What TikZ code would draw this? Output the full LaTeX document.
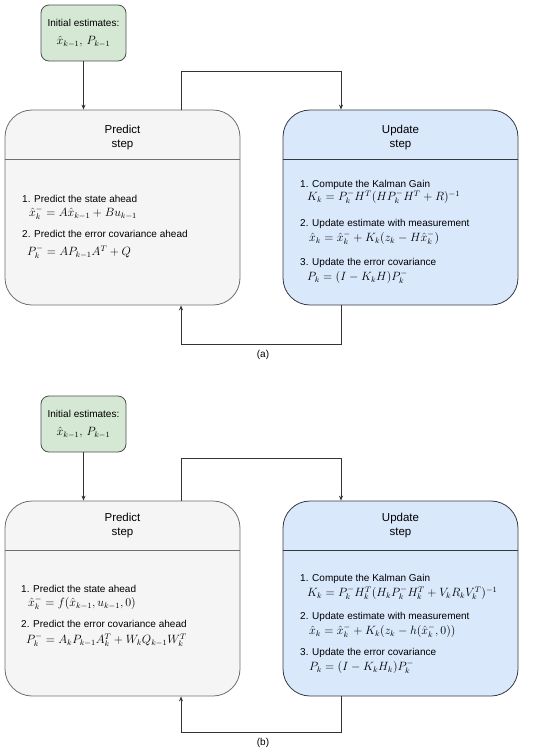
\documentclass[tikz,border=0pt]{standalone}
\usepackage{fontspec}
\setmainfont{Liberation Sans}
\usetikzlibrary{arrows.meta}
\definecolor{vertfond}{HTML}{D5E8D4}
\definecolor{vertbord}{HTML}{4A4F4A}
\definecolor{grisfond}{HTML}{F5F5F5}
\definecolor{grisbord}{HTML}{6E6E6E}
\definecolor{bleufond}{HTML}{DAE8FC}
\definecolor{bleubord}{HTML}{36393D}
\definecolor{trait}{HTML}{333333}
\newcommand{\grand}{\fontsize{11.8}{12}\selectfont}
\tikzset{
  initbox/.style={draw=vertbord, fill=vertfond, rounded corners=8pt, line width=0.8pt,
    minimum width=85pt, minimum height=56pt, inner sep=0pt, align=center,
    font=\fontsize{10}{12}\selectfont},
  predbox/.style={draw=grisbord, fill=grisfond, rounded corners=27pt, line width=0.8pt,
    minimum width=235pt, minimum height=195pt, inner sep=0pt},
  updbox/.style={predbox, draw=bleubord, fill=bleufond},
  titre/.style={align=center, inner sep=0pt, font=\fontsize{11.5}{14}\selectfont},
  etape/.style={anchor=north west, align=left, inner sep=0pt, font=\fontsize{10}{12}\selectfont},
  fleche/.style={draw=trait, line width=0.8pt, -{Stealth[length=5pt,width=4pt]}}
}
\begin{document}
\begin{tikzpicture}[x=1pt,y=-1pt]
    \useasboundingbox (0,0) rectangle (550,753);
    % Les deux schémas (a) et (b) : boîtes et flèches
    \foreach \dy/\lab/\yh/\yb in {0/a/71/344,391/b/458/732} {
        \node[initbox] (init\lab) at (83.5,33+\dy) {Initial estimates:\\[6pt] {\grand$\hat{x}_{k-1},\, P_{k-1}$}};
        \node[predbox] (pred\lab) at (122.5,207.5+\dy) {};
        \node[updbox] (upd\lab) at (400.5,207.5+\dy) {};
        % Séparateurs sous les titres
        \coordinate (sep\lab) at (0,159+\dy);
        \draw[draw=grisbord, line width=0.8pt] (pred\lab.west |- sep\lab) -- (pred\lab.east |- sep\lab);
        \draw[draw=bleubord, line width=0.8pt] (upd\lab.west |- sep\lab) -- (upd\lab.east |- sep\lab);
        % Boucle predict -> update -> predict
        \coordinate (hg\lab) at (181,\yh);
        \coordinate (hd\lab) at (341,\yh);
        \coordinate (bg\lab) at (181,\yb);
        \coordinate (bd\lab) at (341,\yb);
        \draw[fleche] (init\lab.south) -- (init\lab.south |- pred\lab.north);
        \draw[fleche] (hg\lab |- pred\lab.north) -- (hg\lab) -- (hd\lab) -- (hd\lab |- upd\lab.north);
        \draw[fleche] (bd\lab |- upd\lab.south) -- (bd\lab) -- (bg\lab) -- (bg\lab |- pred\lab.south);
        \node[font=\fontsize{10}{12}\selectfont] (leg\lab) at (263,\yb+11) {(\lab)};
    }
    % Titres
    \node[titre] (tpa) at (122.5,138) {Predict\\step};
    \node[titre] (tua) at (400.5,138) {Update\\step};
    \node[titre] (tpb) at (122.5,526) {Predict\\step};
    \node[titre] (tub) at (400.5,526) {Update\\step};
    % (a) prédiction
    \node[etape] (pa1) at (22,195.2) {1. Predict the state ahead\\[2pt]
        \hspace*{7pt}{\grand$\hat{x}_k^- = A\hat{x}_{k-1} + Bu_{k-1}$}};
    \node[etape] (pa2) at (22,230.2) {2. Predict the error covariance ahead\\[6pt]
        \hspace*{5pt}{\grand$P_k^- = AP_{k-1}A^T + Q$}};
    % (a) mise à jour
    \node[etape] (ua1) at (300,180.2) {1. Compute the Kalman Gain\\[1pt]
        \hspace*{7pt}{\grand$K_k = P_k^- H^T(HP_k^- H^T + R)^{-1}$}};
    \node[etape] (ua2) at (300,219.2) {2. Update estimate with measurement\\[3pt]
        \hspace*{9pt}{\grand$\hat{x}_k = \hat{x}_k^- + K_k(z_k - H\hat{x}_k^-)$}};
    \node[etape] (ua3) at (300,258.2) {3. Update the error covariance\\[3pt]
        \hspace*{7pt}{\grand$P_k = (I - K_k H)P_k^-$}};
    % (b) prédiction
    \node[etape] (pb1) at (21,585.2) {1. Predict the state ahead\\[2pt]
        \hspace*{7pt}{\grand$\hat{x}_k^- = f(\hat{x}_{k-1}, u_{k-1}, 0)$}};
    \node[etape] (pb2) at (21,620.2) {2. Predict the error covariance ahead\\[4pt]
        \hspace*{5pt}{\grand$P_k^- = A_k P_{k-1} A_k^T + W_k Q_{k-1} W_k^T$}};
    % (b) mise à jour
    \node[etape] (ub1) at (300,574.2) {1. Compute the Kalman Gain\\[3pt]
        \hspace*{7pt}{\grand$K_k = P_k^- H_k^T(H_k P_k^- H_k^T + V_k R_k V_k^T)^{-1}$}};
    \node[etape] (ub2) at (300,612.2) {2. Update estimate with measurement\\[3pt]
        \hspace*{9pt}{\grand$\hat{x}_k = \hat{x}_k^- + K_k(z_k - h(\hat{x}_k^-, 0))$}};
    \node[etape] (ub3) at (300,648.2) {3. Update the error covariance\\[3pt]
        \hspace*{9pt}{\grand$P_k = (I - K_k H_k)P_k^-$}};
\end{tikzpicture}
\end{document}
